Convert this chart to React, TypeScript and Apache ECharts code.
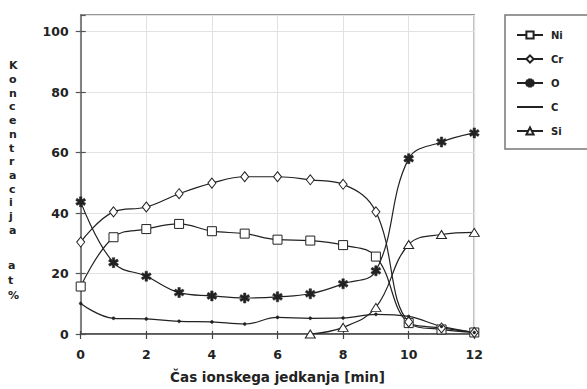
import React, { useEffect, useRef } from "react";
import * as echarts from "echarts";

const times = [0, 1, 2, 3, 4, 5, 6, 7, 8, 9, 10, 11, 12];
const ni = [15.7, 32, 34.7, 36.4, 34, 33.2, 31.2, 30.9, 29.4, 25.6, 3.6, 1.5, 0.5];
const cr = [30.4, 40.4, 42, 46.4, 49.9, 52, 52, 51, 49.5, 40.4, 4, 2, 0.5];
const ox = [43.7, 23.6, 19.1, 13.7, 12.6, 11.9, 12.3, 13.3, 16.6, 20.9, 58, 63.5, 66.5];
const cc = [10.1, 5.2, 5.0, 4.2, 4.0, 3.3, 5.5, 5.2, 5.3, 6.5, 5.8, 2.5, 0.5];
const si = [null, null, null, null, null, null, null, 0, 2.2, 8.8, 29.6, 32.9, 33.6];
const names = ["Ni", "Cr", "O", "C", "Si"];
const yTitleMain = "Koncentracija";
const yTitleUnit = "at%";
const xTitle = "Čas ionskega jedkanja [min]";

const ASTERISK =
  "path://M-1.2,-5L1.2,-5L1.2,5L-1.2,5ZM3.73,-3.54L4.93,-1.46L-3.73,3.54L-4.93,1.46ZM4.93,1.46L3.73,3.54L-4.93,-1.46L-3.73,-3.54Z";

const INK = "#222";
const FONT = "DejaVu Sans";

function pairs(vals: (number | null)[]) {
  return times.map((t, i) => [t, vals[i]]);
}

export default function App() {
  const ref = useRef<HTMLDivElement>(null);
  useEffect(() => {
    if (!ref.current) return;
    const chart = echarts.init(ref.current, null, { renderer: "svg" });
    const mk = (
      name: string,
      vals: (number | null)[],
      symbol: string,
      size: number | number[],
      filled: boolean
    ) => ({
      name,
      type: "line",
      xAxisIndex: 0,
      yAxisIndex: 0,
      data: pairs(vals),
      smooth: 0.4,
      symbol,
      symbolSize: size,
      showSymbol: true,
      lineStyle: { color: INK, width: 1.2 },
      itemStyle: {
        color: filled ? INK : "#fff",
        borderColor: INK,
        borderWidth: filled ? 0.5 : 1,
      },
      z: 3,
    });
    const series = [
      mk(names[0], ni, "rect", 9, false),
      mk(names[1], cr, "diamond", [8, 10], false),
      mk(names[2], ox, ASTERISK, 10, true),
      mk(names[3], cc, "circle", 3, true),
      mk(names[4], si, "triangle", [10, 8], false),
    ];
    const textBase = { fontFamily: FONT, fontSize: 12.5, fontWeight: "bold", color: INK };
    chart.setOption({
      animation: false,
      backgroundColor: "#fff",
      grid: {
        left: 80.7,
        right: 112.7,
        top: 15,
        bottom: 49.7,
        show: true,
        borderColor: "#777",
        borderWidth: 1.5,
        backgroundColor: "transparent",
      },
      legend: {
        orient: "vertical",
        left: 505,
        top: 15,
        data: names.map((n) => (n === "C" ? { name: n, itemStyle: { opacity: 0 } } : n)),
        itemWidth: 26,
        itemHeight: 9,
        itemGap: 14,
        padding: [15, 25, 13, 11],
        borderColor: "#777",
        borderWidth: 1.5,
        textStyle: { fontFamily: FONT, fontSize: 10, color: INK, fontWeight: "bold", padding: [0, 0, 0, 3] },
      },
      xAxis: [
        {
          type: "value",
          min: 0,
          max: 12,
          interval: 2,
          axisLine: { show: true, lineStyle: { color: "#444", width: 1.5 } },
          axisTick: { show: true, length: 5, lineStyle: { color: "#444", width: 1.2 } },
          axisLabel: { ...textBase, margin: 14 },
          splitLine: { show: true, lineStyle: { color: "#e2e2e2", width: 1 } },
          name: xTitle,
          nameLocation: "middle",
          nameGap: 36,
          nameTextStyle: { ...textBase, fontSize: 13.5 },
        },
        {
          type: "value",
          min: 0,
          max: 12,
          interval: 2,
          position: "bottom",
          axisLine: { show: false },
          axisTick: { show: true, inside: true, length: 3, lineStyle: { color: "#444", width: 1.2 } },
          axisLabel: { show: false },
          splitLine: { show: false },
        },
      ],
      yAxis: [
        {
          type: "value",
          min: 0,
          max: 105.5,
          interval: 20,
          axisLine: { show: true, lineStyle: { color: "#666", width: 1.5 } },
          axisTick: { show: true, length: 5, lineStyle: { color: "#555", width: 1.2 } },
          axisLabel: { ...textBase, margin: 12, showMaxLabel: false },
          splitLine: { show: true, lineStyle: { color: "#e2e2e2", width: 1 } },
        },
        {
          type: "value",
          min: 0,
          max: 105.5,
          interval: 20,
          position: "left",
          axisLine: { show: false },
          axisTick: { show: true, inside: true, length: 5, lineStyle: { color: "#555", width: 1.2 } },
          axisLabel: { show: false },
          splitLine: { show: false },
        },
      ],
      graphic: [
        {
          type: "text",
          left: 9,
          top: 59,
          style: {
            text: yTitleMain.split("").join("\n"),
            fontFamily: FONT,
            fontSize: 11,
            fontWeight: "bold",
            lineHeight: 13.7,
            fill: INK,
            align: "center",
          },
        },
        {
          type: "text",
          left: 8,
          top: 257.5,
          style: {
            text: yTitleUnit.split("").join("\n"),
            fontFamily: FONT,
            fontSize: 11,
            fontWeight: "bold",
            lineHeight: 15,
            fill: INK,
            align: "center",
          },
        },
      ],
      series,
    });
    return () => chart.dispose();
  }, []);
  return (
    <div
      ref={ref}
      style={{ position: "fixed", left: 0, top: 0, width: 587, height: 389 }}
    />
  );
}
